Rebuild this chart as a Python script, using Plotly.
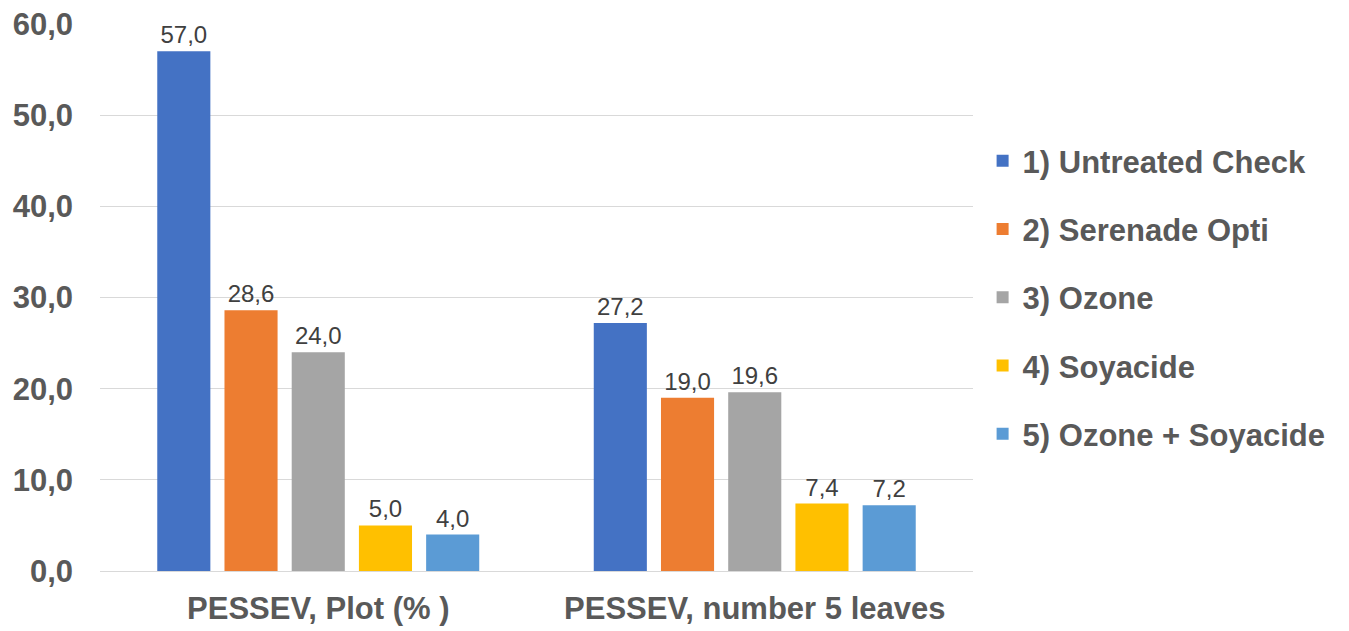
import plotly.graph_objects as go

categories = ["PESSEV, Plot (% )", "PESSEV, number 5 leaves"]
series_names = ["1) Untreated Check", "2) Serenade Opti", "3) Ozone", "4) Soyacide", "5) Ozone + Soyacide"]
untreated = [57.0, 27.2]
serenade = [28.6, 19.0]
ozone = [24.0, 19.6]
soyacide = [5.0, 7.4]
ozone_soyacide = [4.0, 7.2]
colors = ["#4472C4", "#ED7D31", "#A5A5A5", "#FFC000", "#5B9BD5"]
y_ticks = [0, 10, 20, 30, 40, 50, 60]

values = [untreated, serenade, ozone, soyacide, ozone_soyacide]

fig = go.Figure()
for name, vals, col in zip(series_names, values, colors):
    fig.add_trace(go.Bar(
        x=categories, y=vals, name=name, legendgroup=name,
        marker=dict(color=col, line=dict(width=0)),
        texttemplate="%{y:.1f}", textposition="outside",
        textfont=dict(family="Liberation Sans, Arial", size=24, color="#404040"),
        cliponaxis=False,
    ))

fig.update_layout(
    width=1349, height=631,
    barmode="group", bargap=0.23, bargroupgap=0.21,
    separators=", ",
    paper_bgcolor="white", plot_bgcolor="white",
    margin=dict(l=100, r=376, t=24, b=60),
    font=dict(family="Liberation Sans, Arial", color="#595959"),
    legend=dict(
        x=1.011, xanchor="left", y=0.5, yanchor="middle",
        traceorder="grouped", tracegroupgap=25,
        font=dict(size=31, color="#595959", weight="bold"),
        itemwidth=30,
    ),
    yaxis=dict(
        range=[0, 60], tickvals=y_ticks, tickformat=".1f",
        showgrid=True, gridcolor="#D9D9D9", gridwidth=1,
        zeroline=True, zerolinecolor="#D9D9D9", zerolinewidth=1,
        showline=False, ticks="", automargin=False,
        tickfont=dict(size=31, color="#595959", weight="bold"),
        ticklabelstandoff=26,
    ),
    xaxis=dict(
        showline=False, ticks="", automargin=False,
        tickfont=dict(size=31, color="#595959", weight="bold"),
        ticklabelstandoff=16,
    ),
)

fig.write_html("out.html")
